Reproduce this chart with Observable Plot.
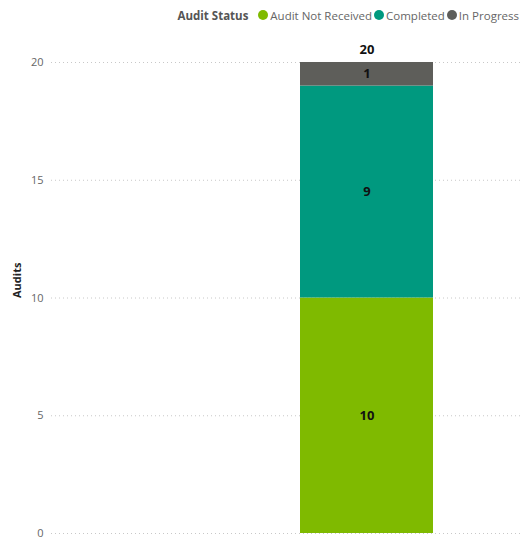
<!DOCTYPE html>
<html><head><meta charset="utf-8">
<script src="https://cdn.jsdelivr.net/npm/d3@7"></script>
<script src="https://cdn.jsdelivr.net/npm/@observablehq/plot@0.6"></script>
<style>
body{margin:0;background:#fff;font-family:"Open Sans",sans-serif;}
#legend{height:30px;display:flex;justify-content:flex-end;align-items:center;padding-right:2px;font-size:11.5px;color:#666;box-sizing:border-box;}
#legend .t{font-weight:bold;color:#555;margin-right:8px;}
#legend .i{display:flex;align-items:center;margin-left:2px;}
#legend .d{width:10px;height:10px;border-radius:50%;margin-right:2px;display:inline-block;}
</style></head><body>
<div id="legend"></div>
<div id="chart"></div>
<script>
const category = ["Audits"];
const statuses = ["Audit Not Received", "Completed", "In Progress"];
const counts = [10, 9, 1];
const colors = ["#7FBA00", "#00997F", "#5E5E5A"];
const yTicks = [0, 5, 10, 15, 20];

const data = statuses.map((s, i) => ({cat: category[0], status: s, value: counts[i]}));
const total = [{cat: category[0], value: d3.sum(counts)}];

const lg = document.getElementById("legend");
lg.innerHTML = `<span class="t">Audit Status</span>` + statuses.map((s,i)=>`<span class="i"><span class="d" style="background:${colors[i]}"></span>${s}</span>`).join("");

const chart = Plot.plot({
  width: 521, height: 512,
  marginLeft: 51, marginRight: 0, marginTop: 32, marginBottom: 9,
  style: {fontFamily: "Open Sans, sans-serif", background: "#fff"},
  x: {domain: category, range: [300, 433], padding: 0, axis: null},
  y: {domain: [0, 20], ticks: yTicks, label: null},
  color: {domain: statuses, range: colors},
  marks: [
    Plot.gridY(yTicks, {stroke: "#c8c8c8", strokeOpacity: 1, strokeDasharray: "1,3"}),
    Plot.axisY(yTicks, {tickSize: 0, tickPadding: 8, fontSize: 11, fill: "#666", label: null}),
    Plot.text(["Audits"], {frameAnchor: "left", dx: -34, rotate: -90, fontWeight: "bold", fontSize: 11, fill: "#222"}),
    Plot.barY(data, Plot.stackY({x: "cat", y: "value", fill: "status"})),
    Plot.text(data, Plot.stackY({x: "cat", y: "value", z: "status", text: d => String(d.value), fontWeight: "bold", fontSize: 13, fill: "#111"})),
    Plot.text(total, {x: "cat", y: "value", text: d => String(d.value), dy: -13, fontWeight: "bold", fontSize: 13, fill: "#111"})
  ]
});
document.getElementById("chart").appendChild(chart);
</script></body></html>
